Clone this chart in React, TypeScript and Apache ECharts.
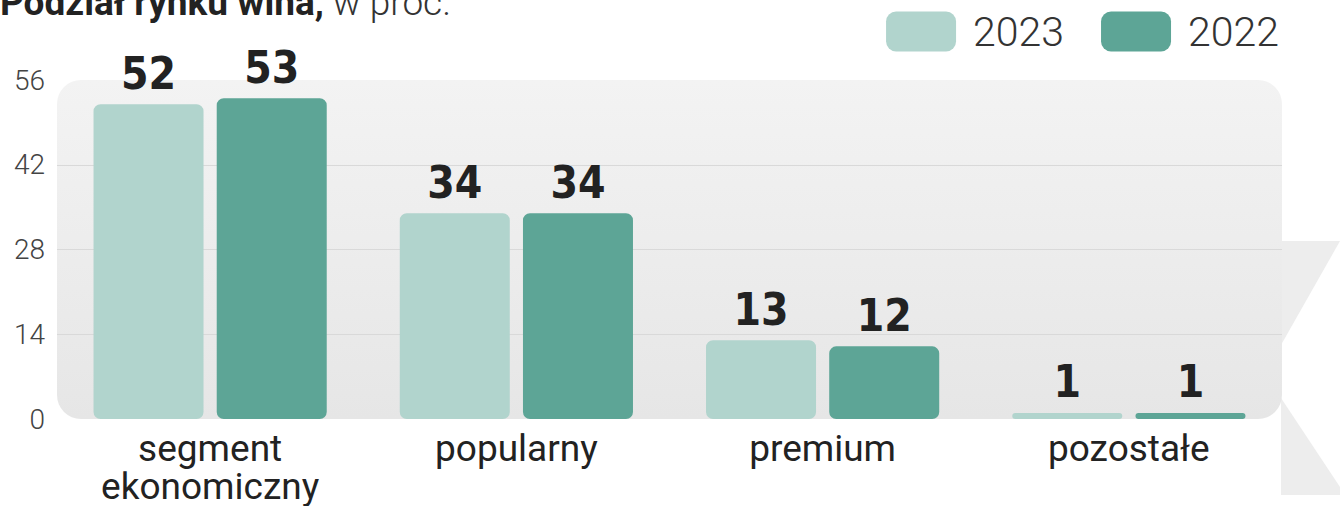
import React, { useEffect, useRef } from "react";
import * as echarts from "echarts";

const categories = ["segment\nekonomiczny", "popularny", "premium", "pozostałe"];
const values2023 = [52, 34, 13, 1];
const values2022 = [53, 34, 12, 1];
const seriesNames = ["2023", "2022"];
const yTicks = { min: 0, max: 56, interval: 14 };

const GRID = { left: 57, right: 58, top: 80, bottom: 87 };
const W = 1340;
const H = 506;

export default function App() {
  const ref = useRef<HTMLDivElement>(null);
  useEffect(() => {
    if (!ref.current) return;
    const chart = echarts.init(ref.current, null, { renderer: "svg" });
    const panelW = W - GRID.left - GRID.right;
    const panelH = H - GRID.top - GRID.bottom;
    const labelStyle = {
      show: true,
      position: "top",
      distance: 9,
      fontFamily: "'DejaVu Sans Condensed', sans-serif",
      fontWeight: "bold",
      fontSize: 44,
      color: "#222",
    };
    chart.setOption({
      animation: false,
      backgroundColor: "#ffffff",
      graphic: [
        {
          type: "polygon",
          z: -10,
          shape: { points: [[1281, 241], [1340, 241], [1281, 345]] },
          style: { fill: "#ededed" },
        },
        {
          type: "polygon",
          z: -10,
          shape: { points: [[1281, 398], [1340, 487], [1340, 495], [1281, 495]] },
          style: { fill: "#ededed" },
        },
        {
          type: "rect",
          z: -5,
          shape: { x: GRID.left, y: GRID.top, width: panelW, height: panelH, r: 24 },
          style: {
            fill: new echarts.graphic.LinearGradient(0, 0, 0, 1, [
              { offset: 0, color: "#f3f3f3" },
              { offset: 1, color: "#e6e6e6" },
            ]),
          },
        },
        {
          type: "text",
          left: 0,
          top: -16,
          style: {
            text: "{b|Podział rynku wina,}{l| w proc.}",
            rich: {
              b: { fontFamily: "Roboto, sans-serif", fontWeight: "bold", fontSize: 37, fill: "#222", color: "#222" },
              l: { fontFamily: "Roboto, sans-serif", fontWeight: 300, fontSize: 37, fill: "#333", color: "#333" },
            },
          },
        },
      ],
      legend: {
        right: 56,
        top: 6,
        itemWidth: 70,
        itemHeight: 40,
        itemGap: 37,
        icon: "roundRect",
        data: seriesNames,
        textStyle: {
          fontFamily: "Roboto, sans-serif",
          fontWeight: 300,
          fontSize: 41,
          color: "#333",
          padding: [0, 0, 0, 12],
        },
      },
      grid: { ...GRID, containLabel: false },
      xAxis: {
        type: "category",
        data: categories,
        axisLine: { show: false },
        axisTick: { show: false },
        axisLabel: {
          fontFamily: "Roboto, sans-serif",
          fontSize: 37,
          color: "#222",
          lineHeight: 38,
          margin: 10,
        },
      },
      yAxis: {
        type: "value",
        min: yTicks.min,
        max: yTicks.max,
        interval: yTicks.interval,
        axisLine: { show: false },
        axisTick: { show: false },
        axisLabel: {
          fontFamily: "Roboto, sans-serif",
          fontWeight: 300,
          fontSize: 28,
          color: "#444",
          margin: 12,
        },
        splitLine: {
          show: true,
          lineStyle: {
            color: ["rgba(0,0,0,0)", "#d9d9d9", "#d9d9d9", "#d9d9d9", "rgba(0,0,0,0)"],
            width: 1,
          },
        },
      },
      series: [
        {
          name: seriesNames[0],
          type: "bar",
          data: values2023,
          barWidth: 110,
          barGap: "12%",
          itemStyle: { color: "#b1d4cd", borderRadius: 7 },
          label: labelStyle,
        },
        {
          name: seriesNames[1],
          type: "bar",
          data: values2022,
          barWidth: 110,
          barGap: "12%",
          itemStyle: { color: "#5da596", borderRadius: 7 },
          label: labelStyle,
        },
      ],
    });
    return () => chart.dispose();
  }, []);
  return (
    <div
      ref={ref}
      style={{ position: "fixed", left: 0, top: 0, width: W, height: H }}
    />
  );
}
